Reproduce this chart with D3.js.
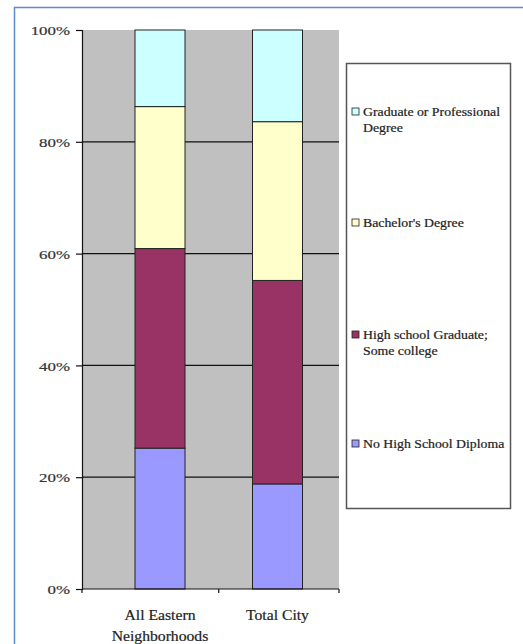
<!DOCTYPE html>
<html><head><meta charset="utf-8">
<script src="https://cdn.jsdelivr.net/npm/d3@7"></script>
<style>
html,body{margin:0;padding:0;background:#fff;}
svg{display:block;}
</style></head>
<body>
<svg id="c" width="523" height="644" font-family="'Liberation Serif', 'DejaVu Serif', serif"></svg>
<script>
const categories = ["All Eastern Neighborhoods", "Total City"];
const categoryLines = [["All Eastern", "Neighborhoods"], ["Total City"]];
const seriesNames = ["No High School Diploma", "High school Graduate; Some college", "Bachelor's Degree", "Graduate or Professional Degree"];
const noDiploma = [25.2, 18.8];
const hsSomeCollege = [35.7, 36.4];
const bachelors = [25.4, 28.4];
const graduate = [13.7, 16.4];
const yTicks = [0, 20, 40, 60, 80, 100];
const colors = ["#9999FF", "#993366", "#FFFFCC", "#CCFFFF"];
const legendLines = [["No High School Diploma"], ["High school Graduate;", "Some college"], ["Bachelor's Degree"], ["Graduate or Professional", "Degree"]];

const FONT = "Liberation Serif";
const svg = d3.select("#c");
// outer frame (top + left)
svg.append("line").attr("x1",14).attr("x2",523).attr("y1",7.5).attr("y2",7.5).attr("stroke","#5b8bd0").attr("stroke-width",1.5);
svg.append("line").attr("x1",14.5).attr("x2",14.5).attr("y1",7).attr("y2",644).attr("stroke","#5b8bd0").attr("stroke-width",1.5);

const plotL = 82, plotR = 339, plotT = 30, plotB = 589;
const y = d3.scaleLinear().domain([0,100]).range([plotB, plotT]);
const x = d3.scalePoint().domain(categories).range([160, 277.5]);
const barW = 50;

svg.append("rect").attr("x",plotL).attr("y",plotT).attr("width",plotR-plotL).attr("height",plotB-plotT).attr("fill","#C0C0C0");

// gridlines
svg.append("g").selectAll("line").data(yTicks.filter(t=>t>0 && t<100)).join("line")
  .attr("x1",plotL).attr("x2",plotR).attr("y1",d=>y(d)).attr("y2",d=>y(d))
  .attr("stroke","#111").attr("stroke-width",1.2);

const table = categories.map((c,i)=>({cat:c, s0:noDiploma[i], s1:hsSomeCollege[i], s2:bachelors[i], s3:graduate[i]}));
const stack = d3.stack().keys(["s0","s1","s2","s3"])(table);

svg.append("g").selectAll("g").data(stack).join("g")
  .attr("fill",(d,i)=>colors[i])
  .selectAll("rect").data(d=>d).join("rect")
  .attr("x",d=>x(d.data.cat)-barW/2).attr("width",barW)
  .attr("y",d=>y(d[1])).attr("height",d=>y(d[0])-y(d[1]))
  .attr("stroke","#222").attr("stroke-width",1);

// y axis
const yAxis = svg.append("g").attr("transform",`translate(${plotL},0)`)
  .call(d3.axisLeft(y).tickValues(yTicks).tickFormat(d=>d+"%").tickSize(6).tickPadding(6));
yAxis.attr("font-family",FONT);
yAxis.select(".domain").attr("stroke","#111").attr("stroke-width",1.2);
yAxis.selectAll(".tick line").attr("stroke","#111").attr("stroke-width",1.2);
yAxis.selectAll("text").style("font-family",FONT).attr("font-size",13.5).attr("fill","#333")
  .attr("stroke","#333").attr("stroke-width",0.2)
  .attr("transform","scale(1.25,1)").attr("x",-12/1.25).attr("dy","0.35em");

// x axis
const xAxisG = svg.append("g");
xAxisG.append("line").attr("x1",plotL).attr("x2",plotR).attr("y1",plotB).attr("y2",plotB).attr("stroke","#111").attr("stroke-width",1.2);
const xTickPos = [plotL, (x(categories[0])+x(categories[1]))/2, plotR];
xAxisG.selectAll("line.t").data(xTickPos).join("line").attr("class","t")
  .attr("x1",d=>d).attr("x2",d=>d).attr("y1",plotB).attr("y2",plotB+4).attr("stroke","#111").attr("stroke-width",1.2);
categories.forEach((c,i)=>{
  categoryLines[i].forEach((ln,j)=>{
    xAxisG.append("text").attr("x",x(c)/1.12).attr("y",620+j*21)
      .attr("transform","scale(1.12,1)").style("font-family",FONT)
      .attr("stroke","#222").attr("stroke-width",0.2)
      .attr("text-anchor","middle").attr("font-size",14).attr("fill","#222").text(ln);
  });
});

// legend
const lg = svg.append("g");
lg.append("rect").attr("x",346.5).attr("y",63.5).attr("width",164).attr("height",445)
  .attr("fill","#fff").attr("stroke","#555").attr("stroke-width",1.5);
const legendY = [444, 335, 223, 112];
seriesNames.forEach((n,i)=>{
  const g = lg.append("g");
  g.append("rect").attr("x",352).attr("y",legendY[i]-4).attr("width",7).attr("height",7)
    .attr("fill",colors[i]).attr("stroke","#222").attr("stroke-width",0.8);
  legendLines[i].forEach((ln,j)=>{
    g.append("text").attr("x",363/1.2).attr("y",legendY[i]+4+j*16)
      .attr("transform","scale(1.2,1)").style("font-family",FONT)
      .attr("stroke","#222").attr("stroke-width",0.2)
      .attr("font-size",11.5).attr("fill","#222").text(ln);
  });
});
</script>
</body></html>
